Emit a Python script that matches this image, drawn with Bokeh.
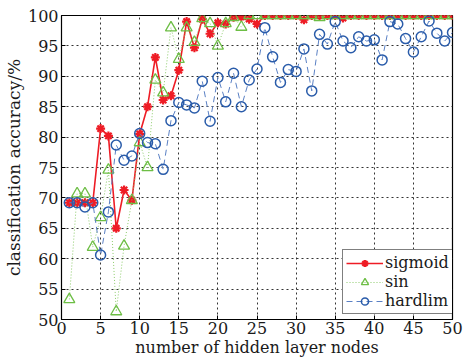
from bokeh.plotting import figure
from bokeh.models import Range1d, FixedTicker, Legend, Title
from bokeh.embed import file_html
from bokeh.resources import INLINE

nodes = list(range(1, 51))
sigmoid = [69.2, 69.2, 69.2, 69.2, 81.4, 80.2, 65.0, 71.3, 69.6, 80.5,
           85.0, 93.1, 86.1, 86.8, 91.0, 99.0, 94.7, 99.4, 97.0, 98.8,
           98.6, 99.7, 99.8, 99.4, 98.6, 100, 100, 100, 100, 100,
           99.3, 100, 100, 100, 100, 99.6, 100, 100, 100, 100,
           100, 100, 100, 100, 100, 100, 100, 100, 100, 100]
sin = [53.3, 70.7, 70.7, 61.9, 66.8, 74.6, 51.3, 62.1, 69.6, 79.1,
       75.0, 89.4, 87.3, 98.0, 92.8, 98.0, 95.6, 99.5, 98.7, 95.0,
       98.7, 99.7, 98.1, 100, 100, 100, 100, 100, 100, 100,
       100, 100, 99.7, 100, 100, 100, 100, 100, 100, 100,
       100, 100, 100, 100, 100, 100, 100, 100, 100, 100]
hardlim = [69.2, 69.2, 68.5, 69.2, 60.6, 67.7, 78.7, 76.2, 76.9, 80.6,
           79.1, 78.9, 74.7, 82.7, 85.7, 85.3, 84.8, 89.2, 82.6, 89.8,
           85.8, 90.5, 85.0, 89.4, 91.2, 98.0, 93.2, 89.0, 91.1, 90.8,
           94.5, 87.6, 96.9, 95.3, 99.0, 95.8, 94.7, 96.5, 95.8, 96.0,
           92.7, 99.0, 98.6, 96.2, 94.0, 96.5, 99.1, 97.1, 95.8, 97.2]
x_ticks = [0, 5, 10, 15, 20, 25, 30, 35, 40, 45, 50]
y_ticks = [50, 55, 60, 65, 70, 75, 80, 85, 90, 95, 100]
x_title = "number of hidden layer nodes"
y_title = "classification accuracy/%"

FONT = "DejaVu Serif"
TXT = "#1a1a1a"

p = figure(width=463, height=364, output_backend="svg", toolbar_location=None,
           x_range=Range1d(0, 50), y_range=Range1d(50, 100),
           min_border_left=61, min_border_right=11, min_border_top=15,
           min_border_bottom=45)
p.background_fill_color = "white"
p.border_fill_color = "white"
p.outline_line_color = "black"
p.outline_line_width = 1.2

for ax in (p.xaxis[0], p.yaxis[0]):
    ax.major_label_text_font = FONT
    ax.major_label_text_font_size = "16px"
    ax.major_label_text_color = TXT
    ax.major_tick_in = 4
    ax.major_tick_out = 0
    ax.minor_tick_in = 0
    ax.minor_tick_out = 0
    ax.axis_line_color = "black"
    ax.major_tick_line_color = "black"
    ax.major_label_standoff = 3
p.xaxis.ticker = FixedTicker(ticks=x_ticks)
p.yaxis.ticker = FixedTicker(ticks=y_ticks)
p.xaxis.major_label_standoff = 2
p.xaxis.axis_label = x_title
p.xaxis.axis_label_text_font = FONT
p.xaxis.axis_label_text_font_size = "16px"
p.xaxis.axis_label_text_font_style = "normal"
p.xaxis.axis_label_text_color = TXT
p.xaxis.axis_label_standoff = 1

p.grid.grid_line_color = "#333333"
p.grid.grid_line_dash = "2 3"
p.grid.grid_line_width = 1

red = "#EE1C25"
green = "#6DBE45"
blue = "#2A5CAA"

r1 = p.line(nodes, sigmoid, line_color=red, line_width=1.6)
m1 = p.scatter(nodes, sigmoid, marker="asterisk", size=9, line_color=red, line_width=2.2)
r2 = p.line(nodes, sin, line_color="#8CCB6A", line_width=1, line_dash="1 2")
m2 = p.scatter(nodes, sin, marker="triangle", size=11, line_color=green,
               fill_color=None, line_width=1.3)
r3 = p.line(nodes, hardlim, line_color="#5A80C4", line_width=1, line_dash="6 4")
m3 = p.scatter(nodes, hardlim, marker="circle", size=10, line_color=blue,
               fill_color=None, line_width=1.5)

legend = Legend(items=[("sigmoid", [r1, m1]), ("sin", [r2, m2]), ("hardlim", [r3, m3])],
                location=(281, 5), margin=0, padding=3, spacing=0,
                label_text_font=FONT, label_text_font_size="16px",
                label_text_color=TXT,
                label_height=18, glyph_height=18, glyph_width=37,
                label_standoff=2, border_line_color="black", border_line_width=1,
                background_fill_color="white", background_fill_alpha=1)
p.add_layout(legend, "center")

ytitle = Title(text=y_title, align="center", offset=19, standoff=2,
               text_font=FONT, text_font_size="17px", text_font_style="normal",
               text_color=TXT)
p.add_layout(ytitle, "left")

open("out.html", "w").write(file_html(p, INLINE))
